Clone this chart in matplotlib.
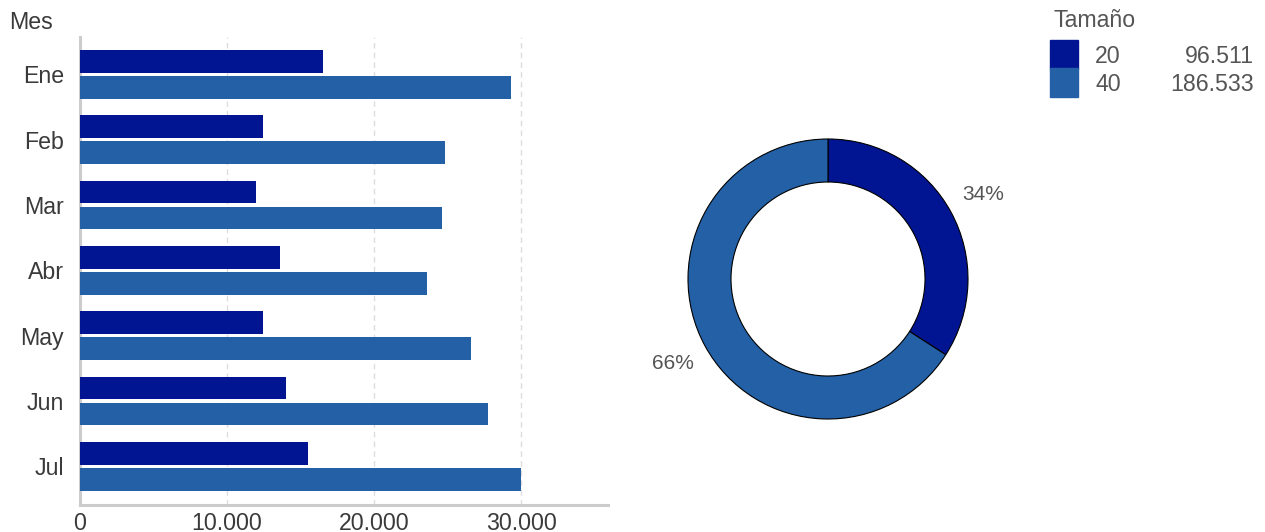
import matplotlib
matplotlib.use("Agg")
import matplotlib.pyplot as plt
from matplotlib.patches import Rectangle
import numpy as np

plt.rcParams['font.family'] = ['Liberation Sans', 'DejaVu Sans']

meses = ["Ene", "Feb", "Mar", "Abr", "May", "Jun", "Jul"]
tam_20 = [16500, 12450, 11980, 13600, 12450, 14030, 15501]
tam_40 = [29300, 24850, 24580, 23560, 26560, 27720, 29963]
series_names = ["20", "40"]
colors = ["#011593", "#2360A6"]
xticks = [0, 10000, 20000, 30000]

W, H = 1265, 532
fig = plt.figure(figsize=(W / 100, H / 100), dpi=100)
FS = 16.7

def fmt(v):
    return f"{int(round(v)):,}".replace(",", ".")

# Bar chart
top_px, bot_px = 37.3, 505
ax = fig.add_axes([80 / W, (H - bot_px) / H, (608 - 80) / W, (bot_px - top_px) / H])
y = np.arange(len(meses))
h = 0.347
off = 0.199
ax.barh(y - off, tam_20, height=h, color=colors[0], zorder=3)
ax.barh(y + off, tam_40, height=h, color=colors[1], zorder=3)
ax.set_ylim(len(meses) - 1 + 0.592, -0.566)
ax.set_xlim(0, 35900)
ax.set_yticks(y)
ax.set_yticklabels(meses, fontsize=FS, color="#3a3a3a")
ax.set_xticks(xticks)
ax.set_xticklabels([fmt(v) for v in xticks], fontsize=FS, color="#3a3a3a")
ax.tick_params(axis='y', length=0, pad=11.5)
ax.tick_params(axis='x', length=0, pad=5)
for s in ["top", "right"]:
    ax.spines[s].set_visible(False)
ax.spines["left"].set_color("#cccccc")
ax.spines["left"].set_linewidth(2.2)
ax.spines["bottom"].set_color("#cccccc")
ax.spines["bottom"].set_linewidth(2.2)
ax.xaxis.grid(True, linestyle=(0, (4, 3)), color="#dddddd", linewidth=1, zorder=0)
ax.set_axisbelow(True)
fig.text(9 / W, 1 - 29.3 / H, "Mes", fontsize=FS, color="#3a3a3a", va="baseline", ha="left")

# Donut
totals = [sum(tam_20), sum(tam_40)]
R = 140
ax2 = fig.add_axes([(828 - 150) / W, (H - 279 - 150) / H, 300 / W, 300 / H])
ax2.pie(totals, colors=colors, startangle=90, counterclock=False, radius=1,
        wedgeprops=dict(width=(140 - 97) / 140, edgecolor="black", linewidth=0.8),
        autopct=lambda p: f"{p:.0f}%", pctdistance=1.26,
        textprops=dict(fontsize=15, color="#555555"))
ax2.set_xlim(-150 / R, 150 / R)
ax2.set_ylim(-150 / R, 150 / R)
ax2.set_aspect("auto")
ax2.axis("off")

# Legend
fig.text(1053 / W, 1 - 27 / H, "Tamaño", fontsize=FS, color="#555555", va="baseline", ha="left")
for i, (name, tot) in enumerate(zip(series_names, totals)):
    y0 = 40 + i * 28.5
    fig.patches.append(Rectangle((1050 / W, 1 - (y0 + 28.5) / H), 28 / W, 28.5 / H,
                                 transform=fig.transFigure, facecolor=colors[i],
                                 edgecolor=colors[i]))
    fig.text(1095 / W, 1 - (y0 + 22.8) / H, name, fontsize=FS, color="#555555", va="baseline", ha="left")
    fig.text(1254 / W, 1 - (y0 + 22.8) / H, fmt(tot), fontsize=FS, color="#555555", va="baseline", ha="right")

fig.savefig("out.png", dpi=100)
